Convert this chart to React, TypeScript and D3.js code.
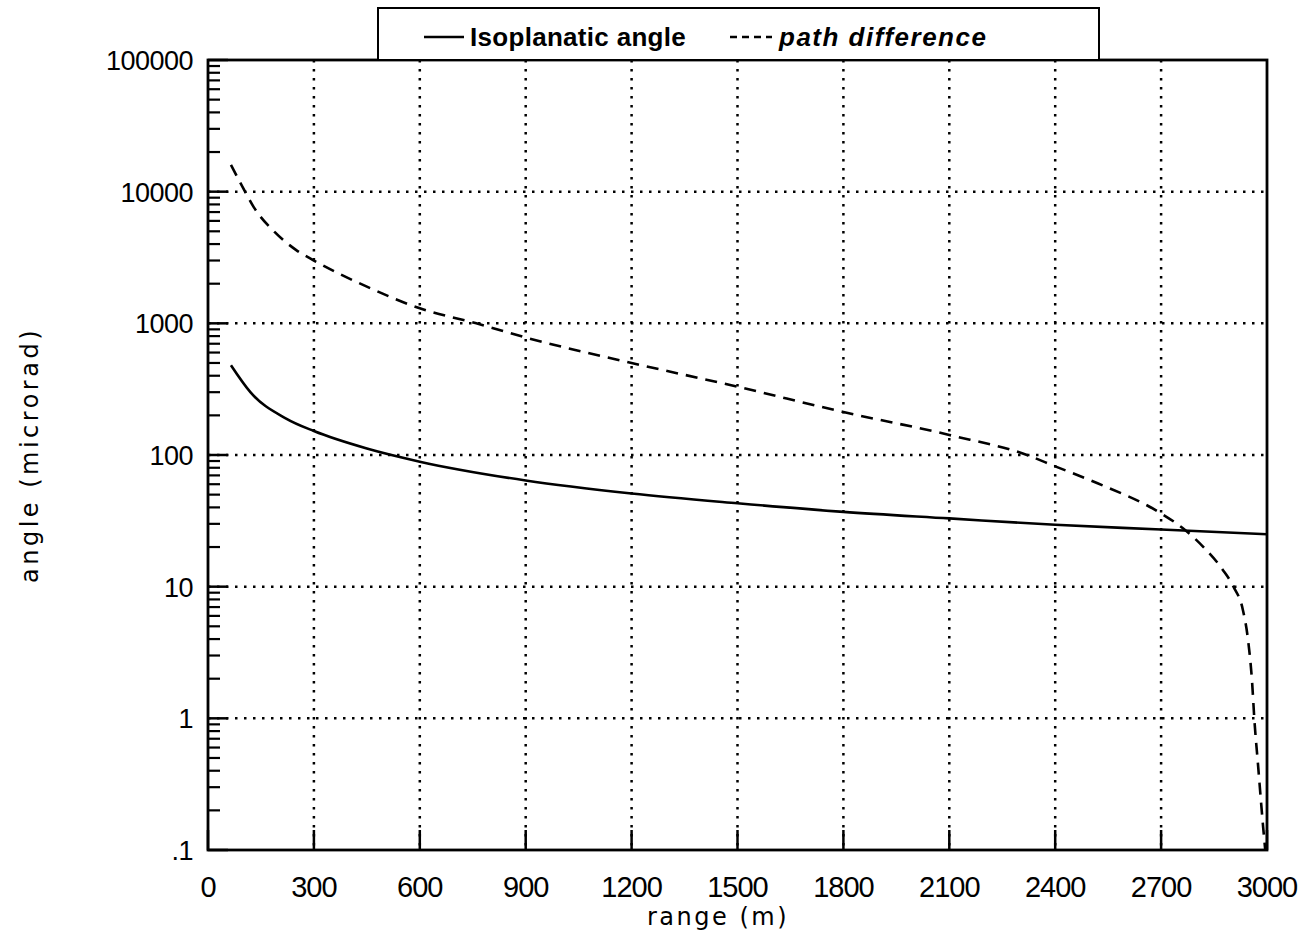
import React, { useEffect, useRef } from "react";
import * as d3 from "d3";

// ---- data ----
const isoRange = [65, 120, 220, 300, 450, 600, 900, 1200, 1500, 1800, 2100, 2400, 2700, 3000];
const isoAngle = [480, 300, 190, 152, 112, 89, 64, 51, 43, 37, 33, 29.5, 27.2, 25];

const pathRange = [65, 105, 130, 190, 250, 300, 450, 600, 760, 900, 1200, 1500, 1800, 2100, 2320, 2400, 2520, 2700, 2760, 2820, 2875, 2905, 2932, 2946, 2958, 2964, 2975, 2989, 2995];
const pathAngle = [16000, 10000, 7600, 4900, 3600, 3000, 1900, 1300, 1000, 780, 500, 330, 212, 142, 100, 82, 61, 36, 28, 20, 13.4, 10, 6.6, 4, 1.85, 1, 0.43, 0.15, 0.1];

const xTicks = [0, 300, 600, 900, 1200, 1500, 1800, 2100, 2400, 2700, 3000];
const yTicks = [0.1, 1, 10, 100, 1000, 10000, 100000];
const yTickLabels = [".1", "1", "10", "100", "1000", "10000", "100000"];

const legendLabels = ["Isoplanatic angle", "path difference"];
const xTitle = "range (m)";
const yTitle = "angle (microrad)";

const W = 1304;
const H = 942;
const M = { left: 208, right: 1267, top: 60, bottom: 850 };

export default function App() {
  const ref = useRef<SVGSVGElement>(null);

  useEffect(() => {
    const svg = d3.select(ref.current);
    svg.selectAll("*").remove();

    const x = d3.scaleLinear().domain([0, 3000]).range([M.left, M.right]);
    const y = d3.scaleLog().domain([0.1, 100000]).range([M.bottom, M.top]);

    const g = svg.append("g");

    // grid
    xTicks.filter((t) => t > 0 && t < 3000).forEach((t) => {
      g.append("line")
        .attr("x1", x(t)).attr("x2", x(t))
        .attr("y1", M.top).attr("y2", M.bottom)
        .attr("stroke", "#000").attr("stroke-width", 2.5)
        .attr("stroke-dasharray", "2.5 6.5");
    });
    yTicks.filter((t) => t > 0.1 && t < 100000).forEach((t) => {
      g.append("line")
        .attr("x1", M.left).attr("x2", M.right)
        .attr("y1", y(t)).attr("y2", y(t))
        .attr("stroke", "#000").attr("stroke-width", 2.5)
        .attr("stroke-dasharray", "2.5 6.5");
    });

    // minor ticks on y
    for (let e = -1; e < 5; e++) {
      for (let k = 2; k <= 9; k++) {
        const v = k * Math.pow(10, e);
        g.append("line")
          .attr("x1", M.left).attr("x2", M.left + 12)
          .attr("y1", y(v)).attr("y2", y(v))
          .attr("stroke", "#000").attr("stroke-width", 2.2);
      }
    }
    // major ticks on y
    yTicks.forEach((t) => {
      g.append("line")
        .attr("x1", M.left).attr("x2", M.left + 20)
        .attr("y1", y(t)).attr("y2", y(t))
        .attr("stroke", "#000").attr("stroke-width", 2.5);
    });
    // major ticks on x
    xTicks.forEach((t) => {
      g.append("line")
        .attr("x1", x(t)).attr("x2", x(t))
        .attr("y1", M.bottom).attr("y2", M.bottom - 20)
        .attr("stroke", "#000").attr("stroke-width", 2.5);
    });

    // frame
    g.append("rect")
      .attr("x", M.left).attr("y", M.top)
      .attr("width", M.right - M.left).attr("height", M.bottom - M.top)
      .attr("fill", "none").attr("stroke", "#000").attr("stroke-width", 2.8);

    // tick labels
    yTicks.forEach((t, i) => {
      g.append("text")
        .attr("x", 193).attr("y", y(t) + 10)
        .attr("text-anchor", "end")
        .attr("font-family", "Liberation Sans, Arial, sans-serif")
        .attr("font-size", 27)
        .attr("letter-spacing", -0.5)
        .text(yTickLabels[i]);
    });
    xTicks.forEach((t) => {
      g.append("text")
        .attr("x", x(t)).attr("y", 897)
        .attr("text-anchor", "middle")
        .attr("font-family", "Liberation Sans, Arial, sans-serif")
        .attr("font-size", 29)
        .attr("letter-spacing", -1)
        .text(String(t));
    });

    // axis titles
    g.append("text")
      .attr("x", 718).attr("y", 925)
      .attr("text-anchor", "middle")
      .attr("font-family", "DejaVu Sans, sans-serif")
      .attr("font-size", 24)
      .attr("letter-spacing", 2.5)
      .text(xTitle);
    g.append("text")
      .attr("transform", `translate(38, 455) rotate(-90)`)
      .attr("text-anchor", "middle")
      .attr("font-family", "DejaVu Sans, sans-serif")
      .attr("font-size", 24)
      .attr("letter-spacing", 3.5)
      .text(yTitle);

    // lines
    const line = d3.line<[number, number]>()
      .x((d) => x(d[0]))
      .y((d) => y(d[1]))
      .curve(d3.curveMonotoneX);

    const isoData: [number, number][] = isoRange.map((r, i) => [r, isoAngle[i]]);
    const pathData: [number, number][] = pathRange.map((r, i) => [r, pathAngle[i]]);

    g.append("path")
      .attr("d", line(isoData) as string)
      .attr("fill", "none").attr("stroke", "#000").attr("stroke-width", 2.6);
    g.append("path")
      .attr("d", line(pathData) as string)
      .attr("fill", "none").attr("stroke", "#000").attr("stroke-width", 2.6)
      .attr("stroke-dasharray", "12 8");

    // legend
    const lg = svg.append("g");
    lg.append("rect")
      .attr("x", 378).attr("y", 8)
      .attr("width", 721).attr("height", M.top - 8)
      .attr("fill", "#fff").attr("stroke", "#000").attr("stroke-width", 2);
    lg.append("line")
      .attr("x1", 424).attr("x2", 464).attr("y1", 37).attr("y2", 37)
      .attr("stroke", "#000").attr("stroke-width", 2.5);
    lg.append("text")
      .attr("x", 470).attr("y", 46)
      .attr("font-family", "Liberation Sans, Arial, sans-serif")
      .attr("font-weight", "bold")
      .attr("font-size", 26)
      .attr("letter-spacing", 0.3)
      .text(legendLabels[0]);
    lg.append("line")
      .attr("x1", 730).attr("x2", 772).attr("y1", 37).attr("y2", 37)
      .attr("stroke", "#000").attr("stroke-width", 2.5)
      .attr("stroke-dasharray", "7 5");
    lg.append("text")
      .attr("x", 779).attr("y", 46)
      .attr("font-family", "Liberation Sans, Arial, sans-serif")
      .attr("font-weight", "bold")
      .attr("font-style", "italic")
      .attr("font-size", 26)
      .attr("letter-spacing", 1.5)
      .text(legendLabels[1]);
  }, []);

  return (
    <svg
      ref={ref}
      width={W}
      height={H}
      style={{ position: "absolute", left: 0, top: 0, background: "#fff" }}
    />
  );
}
